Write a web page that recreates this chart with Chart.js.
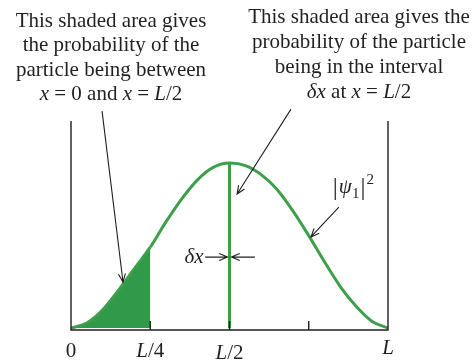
<!DOCTYPE html>
<html>
<head>
<meta charset="utf-8">
<script src="https://cdn.jsdelivr.net/npm/chart.js@4/dist/chart.umd.min.js"></script>
<style>
  html, body { margin: 0; padding: 0; background: #ffffff; }
  #wrap { position: relative; width: 474px; height: 360px; }
</style>
</head>
<body>
<div id="wrap"><canvas id="chart"></canvas></div>
<script>
// Position inside the well, as a fraction of its width L
const positions = [0, 0.05, 0.10, 0.15, 0.20, 0.25, 0.30, 0.35, 0.40, 0.45, 0.50,
                   0.55, 0.60, 0.65, 0.70, 0.75, 0.80, 0.85, 0.90, 0.95, 1.00];
// Probability density |psi_1|^2, relative to its peak
const density = [0, 0.03, 0.11, 0.23, 0.36, 0.49, 0.645, 0.785, 0.90, 0.975, 1.00,
                 0.985, 0.93, 0.84, 0.71, 0.56, 0.40, 0.25, 0.13, 0.04, 0];
// Shaded region runs from x = 0 up to this position
const shadedEnd = 0.25;
// Thin slice delta-x sits at this position
const slicePos = 0.5;
// Tick marks on the x axis and the labels written under it
const tickMarks = [0.25, 0.5, 0.75];
const labelPositions = [0, 0.25, 0.5, 1];
const labelTexts = ['0', '*L*/4', '*L*/2', '*L*'];
// Captions above the plot (*...* marks italic runs)
const leftNote = ['This shaded area gives', 'the probability of the',
                  'particle being between', '*x* = 0 and *x* = *L*/2'];
const rightNote = ['This shaded area gives the', 'probability of the particle',
                   'being in the interval', '*δx* at *x* = *L*/2'];

const green = '#3d9f4a';
const shade = '#30994a';
const ink = '#231f20';
const serif = '"Liberation Serif", "Times New Roman", serif';

function runs(str) {
  const out = [];
  str.split('*').forEach((t, i) => { if (t) out.push({ t, it: i % 2 === 1 }); });
  return out;
}

function drawRich(ctx, str, x, y, size, align) {
  const parts = runs(str);
  const fontOf = p => (p.it ? 'italic ' : '') + size + 'px ' + serif;
  let w = 0;
  parts.forEach(p => { ctx.font = fontOf(p); p.w = ctx.measureText(p.t).width; w += p.w; });
  let cx = align === 'center' ? x - w / 2 : align === 'right' ? x - w : x;
  ctx.textAlign = 'left';
  ctx.textBaseline = 'alphabetic';
  parts.forEach(p => { ctx.font = fontOf(p); ctx.fillText(p.t, cx, y); cx += p.w; });
}

// straight shaft ending in an open two-barb head at (x2, y2)
function arrow(ctx, x1, y1, x2, y2) {
  const a = Math.atan2(y2 - y1, x2 - x1), len = 9, spread = 0.4;
  ctx.beginPath();
  ctx.moveTo(x1, y1);
  ctx.lineTo(x2, y2);
  ctx.moveTo(x2 - len * Math.cos(a - spread), y2 - len * Math.sin(a - spread));
  ctx.lineTo(x2, y2);
  ctx.lineTo(x2 - len * Math.cos(a + spread), y2 - len * Math.sin(a + spread));
  ctx.stroke();
}

const decor = {
  id: 'decor',
  afterDatasetsDraw(chart) {
    const { ctx, chartArea: a, scales: { x: sx, y: sy } } = chart;
    const X = v => sx.getPixelForValue(v);
    const Y = v => sy.getPixelForValue(v);
    ctx.save();
    ctx.strokeStyle = ink;
    ctx.fillStyle = ink;
    ctx.lineWidth = 1.4;

    // open box: left wall, floor, right wall
    ctx.beginPath();
    ctx.moveTo(a.left, a.top);
    ctx.lineTo(a.left, a.bottom);
    ctx.lineTo(a.right, a.bottom);
    ctx.lineTo(a.right, a.top);
    ctx.stroke();

    // tick marks pointing up into the plot
    ctx.beginPath();
    tickMarks.forEach(v => {
      ctx.moveTo(X(v), a.bottom);
      ctx.lineTo(X(v), a.bottom - 9);
    });
    ctx.stroke();

    // axis labels
    const drop = [27, 27, 29, 24];
    labelPositions.forEach((v, i) => {
      drawRich(ctx, labelTexts[i], X(v), a.bottom + drop[i], 21, 'center');
    });

    // captions
    leftNote.forEach((s, i) => drawRich(ctx, s, 111, 27 + i * 24.4, 21, 'center'));
    rightNote.forEach((s, i) => drawRich(ctx, s, 359, 23 + i * 25, 21, 'center'));

    // pointers
    ctx.lineWidth = 1.1;
    arrow(ctx, X(0.098), Y(1.315), X(0.164), Y(0.279));
    arrow(ctx, X(0.694), Y(1.327), X(0.524), Y(0.812));
    arrow(ctx, X(0.845), Y(0.733), X(0.757), Y(0.552));
    arrow(ctx, X(0.423), Y(0.43), X(slicePos) - 2, Y(0.43));
    arrow(ctx, X(0.580), Y(0.43), X(slicePos) + 2, Y(0.43));

    // delta-x label
    drawRich(ctx, '*δx*', X(0.418), Y(0.394), 21, 'right');

    // |psi_1|^2 label
    let px = X(0.826);
    const base = Y(0.818);
    ctx.textAlign = 'left';
    ctx.textBaseline = 'alphabetic';
    ctx.font = '25px ' + serif;
    ctx.fillText('|', px, base + 2);
    px += ctx.measureText('|').width + 1;
    ctx.font = 'italic 21px ' + serif;
    ctx.fillText('ψ', px, base);
    px += ctx.measureText('ψ').width;
    ctx.font = '15px ' + serif;
    ctx.fillText('1', px, base + 5);
    px += ctx.measureText('1').width + 1;
    ctx.font = '25px ' + serif;
    ctx.fillText('|', px, base + 2);
    px += ctx.measureText('|').width + 1;
    ctx.font = '15px ' + serif;
    ctx.fillText('2', px, base - 9);

    ctx.restore();
  }
};

new Chart(document.getElementById('chart'), {
  type: 'line',
  data: {
    datasets: [
      {
        label: '|ψ1|²',
        data: positions.map((x, i) => ({ x, y: density[i] })),
        borderColor: green,
        borderWidth: 3,
        pointRadius: 0,
        cubicInterpolationMode: 'monotone',
        fill: 'origin',
        backgroundColor: 'rgba(0,0,0,0)',
        segment: {
          backgroundColor: c => (c.p1.parsed.x <= shadedEnd + 1e-9 ? shade : 'rgba(0,0,0,0)')
        }
      },
      {
        label: 'δx',
        data: [{ x: slicePos, y: 0 }, { x: slicePos, y: density[positions.indexOf(slicePos)] }],
        borderColor: green,
        borderWidth: 3,
        pointRadius: 0,
        tension: 0,
        fill: false
      }
    ]
  },
  options: {
    responsive: true,
    maintainAspectRatio: false,
    animation: false,
    events: [],
    layout: { padding: { left: 71, right: 86, top: 121, bottom: 30 } },
    scales: {
      x: { type: 'linear', min: 0, max: 1, display: false },
      y: { type: 'linear', min: -0.012, max: 1.255, display: false }
    },
    plugins: { legend: { display: false }, tooltip: { enabled: false } }
  },
  plugins: [decor]
});
</script>
</body>
</html>
